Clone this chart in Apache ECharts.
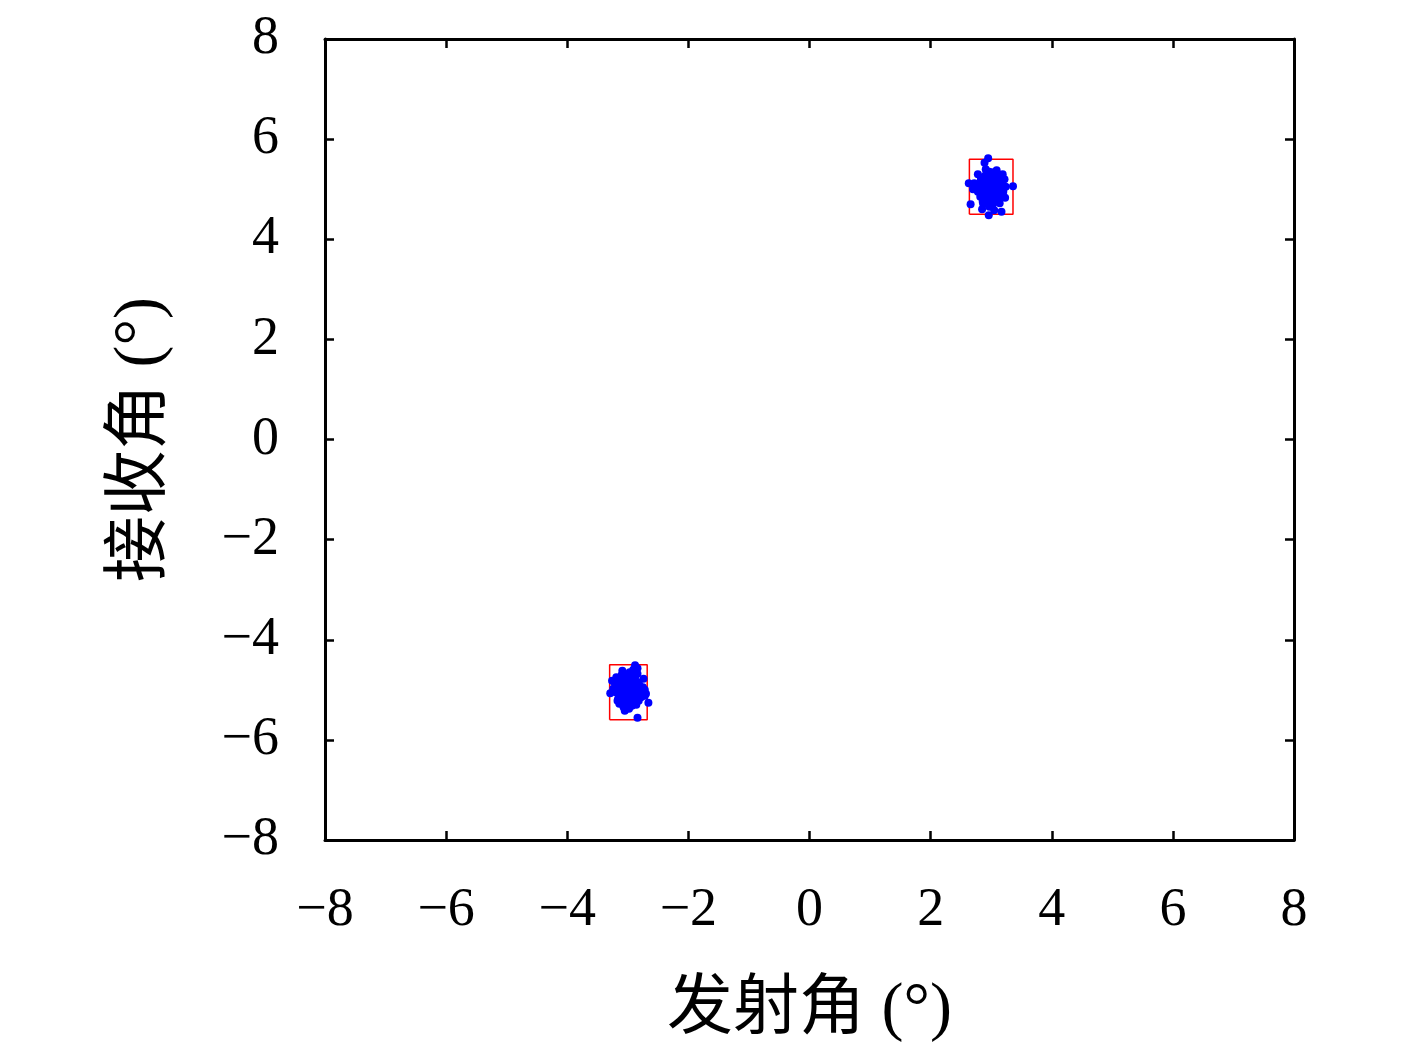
<!DOCTYPE html>
<html><head><meta charset="utf-8">
<script src="https://cdn.jsdelivr.net/npm/echarts@6/dist/echarts.min.js"></script>
<style>html,body{margin:0;padding:0;background:#fff}#c{width:1417px;height:1051px}</style>
</head><body><div id="c"></div>
<script>
const axisTicks = [-8,-6,-4,-2,0,2,4,6,8];
const xAxisTitle = '发射角 (°)';
const yAxisTitle = '接收角 (°)';
// Target 1 estimates
const target1X = [2.95,3.00,3.05,2.90,3.10,2.98,3.02,2.85,3.08,2.92,3.15,2.80,3.00,3.05,2.88,3.12,2.95,3.18,2.78,3.03,
  2.90,3.10,2.83,3.20,2.97,2.75,3.07,2.93,3.22,2.72,3.00,2.96,3.04,2.99,3.06,2.94,3.13,2.87,3.01,2.89,
  3.16,2.82,3.09,2.91,3.24,2.70,3.02,2.97,3.14,2.86,2.89,2.95,3.36,3.19,2.66,3.17,2.96,2.85,3.23,2.63,3.05,2.78,
  2.93,3.07,2.86,3.11,2.99,3.03,2.81,3.17,2.92,3.06,2.97,2.88,3.12,3.01,2.84,3.19,2.94,3.08,2.77,3.00,2.91,3.14,2.98,3.04,2.87];
const target1Y = [5.05,5.10,5.00,5.15,5.05,4.95,5.20,5.00,5.15,4.90,5.00,5.10,4.85,5.25,5.25,4.90,5.30,5.10,4.95,4.80,
  4.80,5.30,5.20,4.95,5.35,5.05,4.75,4.72,5.20,5.12,5.00,5.12,5.08,4.98,4.92,5.22,5.18,4.88,5.28,5.06,
  4.85,4.85,5.38,5.40,5.05,5.00,4.68,4.65,4.72,4.75,5.53,5.62,5.06,5.30,4.70,4.55,4.48,4.60,4.83,5.12,4.58,5.30,
  5.02,5.03,5.08,5.12,5.17,4.90,4.98,5.22,5.32,4.82,4.78,4.95,5.25,5.14,5.15,5.02,4.84,5.10,5.02,4.92,4.96,5.06,5.24,5.34,4.70];
// Target 2 estimates
const target2X = [-3.00,-2.95,-3.05,-2.90,-3.10,-2.98,-3.02,-2.85,-3.08,-2.92,-3.15,-2.80,-3.00,-3.05,-2.88,-3.12,-2.95,-3.18,-2.78,-3.03,
  -2.90,-3.10,-2.83,-3.20,-2.97,-2.75,-3.07,-2.93,-3.22,-2.72,-2.96,-3.04,-2.99,-3.06,-2.94,-3.13,-2.87,-3.01,-2.89,-3.16,
  -2.82,-3.09,-2.91,-3.24,-2.70,-2.98,-3.14,-2.86,-2.84,-3.19,-2.88,-2.84,-2.66,-2.84,-3.29,-3.26,-2.74,-3.05,-2.72,
  -2.93,-3.07,-2.86,-3.11,-2.99,-3.03,-2.81,-3.17,-2.92,-3.06,-2.97,-2.88,-3.12,-3.01,-2.84,-3.19,-2.94,-3.08,-2.77,-3.00,-2.91,-3.14,-2.98,-3.04];
const target2Y = [-5.00,-4.95,-5.05,-5.10,-4.90,-5.15,-4.80,-4.95,-5.20,-4.85,-5.00,-5.05,-5.25,-4.75,-4.75,-5.10,-4.70,-4.90,-5.15,-5.30,
  -5.25,-4.70,-4.85,-5.05,-4.65,-4.95,-5.35,-5.32,-4.85,-5.00,-5.05,-4.92,-5.08,-5.02,-4.88,-4.82,-5.20,-4.72,-5.02,-5.18,
  -5.22,-4.62,-4.60,-4.98,-5.08,-5.38,-5.28,-5.30,-4.68,-4.75,-4.51,-4.57,-5.26,-5.56,-5.07,-4.82,-4.78,-5.42,-5.12,
  -5.02,-4.98,-5.08,-5.12,-4.83,-5.10,-4.90,-5.22,-4.78,-4.84,-5.24,-5.06,-4.96,-5.14,-5.15,-5.02,-5.16,-4.92,-5.10,-4.88,-4.98,-4.96,-4.76,-5.18];
// Red boxes: [xMin, xMax, yMin, yMax]
const box1 = [2.64, 3.36, 4.50, 5.60];
const box2 = [-3.30, -2.68, -5.60, -4.50];

function pairs(xs, ys){ return xs.map((x,i)=>[x, ys[i]]); }
function boxPath(b){ return [[b[0],b[2]],[b[1],b[2]],[b[1],b[3]],[b[0],b[3]],[b[0],b[2]]]; }
const fmt = v => (v < 0 ? '\u2212' + Math.abs(v) : String(v));
const serif = 'Liberation Serif, DejaVu Serif, serif';
const lineStyle = {color:'#000', width:3};
function mkAxis(pos, showLabel, extra){
  return Object.assign({
    type:'value', min:-8, max:8, interval:2, position:pos,
    axisLine:{show:true, onZero:false, lineStyle},
    axisTick:{show:true, inside:true, length:9, lineStyle:{color:'#000', width:2.5}},
    axisLabel:{show:showLabel, color:'#000', fontFamily:serif, fontSize:54, formatter:fmt},
    splitLine:{show:false}
  }, extra||{});
}
const chart = echarts.init(document.getElementById('c'));
chart.setOption({
  animation:false,
  backgroundColor:'#fff',
  grid:{left:325, right:123, top:39, bottom:211, containLabel:false},
  xAxis:[
    mkAxis('bottom', true, {name:xAxisTitle, nameLocation:'middle', nameGap:138,
      nameTextStyle:{color:'#000', fontSize:66, fontFamily:serif+', Noto Sans CJK SC'},
      axisLabel:{show:true, color:'#000', fontFamily:serif, fontSize:54, formatter:fmt, margin:44}}),
    mkAxis('top', false)
  ],
  yAxis:[
    mkAxis('left', true, {name:yAxisTitle, nameLocation:'middle', nameGap:150, nameRotate:90,
      nameTextStyle:{color:'#000', fontSize:66, fontFamily:serif+', Noto Sans CJK SC'},
      axisLabel:{show:true, color:'#000', fontFamily:serif, fontSize:54, formatter:fmt, margin:46}}),
    mkAxis('right', false)
  ],
  series:[
    {type:'line', data:boxPath(box1), symbol:'none', lineStyle:{color:'#ff0000', width:1.5}, z:1},
    {type:'line', data:boxPath(box2), symbol:'none', lineStyle:{color:'#ff0000', width:1.5}, z:1},
    {type:'scatter', data:pairs(target1X, target1Y), symbolSize:8, itemStyle:{color:'#0000ff', opacity:1}, z:2},
    {type:'scatter', data:pairs(target2X, target2Y), symbolSize:8, itemStyle:{color:'#0000ff', opacity:1}, z:2}
  ]
});
</script></body></html>
